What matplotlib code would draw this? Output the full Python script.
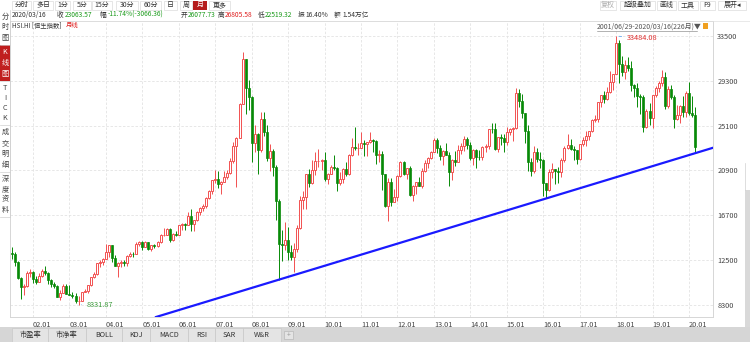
import matplotlib
matplotlib.use('Agg')
import matplotlib.pyplot as plt
from matplotlib.patches import Rectangle

plt.rcParams['font.family'] = ['Noto Sans CJK SC', 'DejaVu Sans']

# ---------------- data: HSI monthly candles 2001-06 .. 2020-03 ----------------
start_year, start_month = 2001, 6
opens = [
    13174, 13042, 12316, 10866, 9951, 10073, 11279,
    11397, 10725, 10482, 11033, 11497, 11301, 10599, 10268, 10043, 9072, 9441, 10069,
    9321, 9258, 9123, 8634, 8717, 9487, 9577, 10134, 10908, 11229, 12190, 12317,
    12576, 13289, 13908, 12682, 11943, 12198, 12286, 12239, 12850, 13120, 13054, 14060,
    14230, 13721, 14195, 13516, 13909, 13868, 14201, 14880, 14903, 15429, 14387, 14937,
    14876, 15753, 15918, 15805, 16661, 15858, 16267, 16971, 17392, 17543, 18324, 18960,
    19965, 20107, 19651, 19801, 20319, 20635, 21773, 23185, 23984, 27142, 31352, 28643,
    27813, 23456, 24332, 22849, 25755, 24533, 22102, 22731, 21262, 18016, 13969, 13888,
    14387, 13278, 12812, 13576, 15521, 18171, 18379, 20573, 19724, 20955, 21752, 21821,
    21873, 20122, 20608, 21239, 21108, 19765, 20129, 21030, 20536, 22358, 23096, 23007,
    23035, 23447, 23338, 23528, 23720, 23684, 22398, 22440, 20535, 17592, 19864, 17989,
    18434, 20390, 21680, 20556, 21094, 18630, 19441, 19796, 19482, 20840, 21642, 22030,
    22657, 23730, 23020, 22300, 22737, 22392, 20803, 21883, 21731, 22860, 23206, 23881,
    23306, 22035, 22837, 22151, 22133, 23082, 23191, 24757, 24742, 22933, 23998, 23987,
    23605, 24507, 24823, 24901, 28133, 27424, 26250, 24636, 21671, 20846, 22640, 21996,
    21914, 19683, 19112, 20777, 21067, 20815, 20794, 21891, 22977, 23297, 22935, 22790,
    22001, 23361, 23741, 24112, 24615, 25661, 25765, 27323, 27970, 27554, 28246, 29177,
    29919, 32887, 30845, 30093, 30808, 30469, 28955, 28583, 27889, 27789, 24980, 26507,
    25846, 27942, 28633, 29051, 29699, 26901, 28543, 27778, 25725, 26092, 26907, 26346,
    28190, 26313, 26078,
]
highs = [
    13711, 13236, 12401, 10954, 10286, 11518, 11627,
    11466, 10980, 11289, 11655, 11974, 11380, 10750, 10453, 10214, 9700, 10262, 10272,
    10166, 9506, 9398, 9129, 9548, 9795, 10173, 10908, 11413, 12242, 12513, 12664,
    14058, 13928, 13950, 12988, 12320, 12538, 12481, 12945, 13309, 13257, 14175, 14339,
    14277, 14274, 14197, 13948, 14032, 14287, 14916, 15508, 15508, 15509, 15066, 15203,
    15753, 15996, 16004, 16968, 17328, 16302, 17101, 17459, 17805, 18416, 19085, 20049,
    20971, 20841, 19893, 20856, 20953, 22085, 23563, 24045, 27254, 31958, 31352, 29365,
    27853, 25120, 24402, 26387, 26387, 25200, 23360, 22950, 21433, 18200, 15319, 16069,
    15620, 13883, 14137, 15750, 18465, 18963, 20573, 21058, 21929, 22621, 22943, 22003,
    22594, 20710, 21441, 22389, 21189, 20757, 21169, 21710, 22484, 23950, 24989, 23451,
    24468, 23722, 23549, 24468, 23880, 23781, 22835, 22702, 20611, 20221, 20210, 19181,
    20490, 21760, 21747, 21157, 21355, 19530, 19796, 20250, 21117, 21854, 22149, 22718,
    23944, 23944, 23307, 22787, 23512, 22625, 21980, 22700, 23307, 23509, 24112, 24038,
    23527, 22900, 22927, 22823, 23191, 23370, 24813, 25318, 25363, 23774, 24287, 24345,
    24987, 24847, 25012, 28588, 28524, 28049, 26331, 25129, 22073, 23152, 22986, 22625,
    21951, 19712, 21079, 21622, 21067, 21239, 22095, 23167, 24364, 23874, 23234, 22818,
    23374, 24004, 24594, 24616, 25701, 26090, 27362, 28017, 28376, 28736, 30199, 29919,
    33484.08, 33170, 31666, 31230, 31521, 31150, 28993, 29053, 28049, 27950, 26632, 27260,
    27968, 28858, 29316, 30280, 30157, 28794, 28880, 27963, 27069, 27034, 27838, 28319,
    29175, 27908, 26805.58,
]
lows = [
    12630, 11928, 10777, 8894, 9196, 9974, 10908,
    10385, 10233, 10450, 10910, 11101, 10250, 9960, 9898, 9072, 8772, 9410, 9321,
    9258, 8969, 8532, 8331.87, 8717, 9481, 9459, 10043, 10813, 11140, 11891, 12016,
    12568, 12837, 12330, 11943, 10918, 11875, 11996, 12000, 12774, 12766, 13048, 13870,
    13486, 13695, 13410, 13337, 13626, 13728, 14080, 14743, 14814, 14189, 14309, 14744,
    14866, 15310, 15352, 15794, 15205, 15234, 16155, 16711, 17087, 17388, 18274, 18686,
    19715, 19304, 18659, 19801, 20119, 20535, 21560, 19386, 23962, 27142, 26168, 26576,
    21709, 22590, 20572, 22600, 24160, 21773, 20897, 20392, 16283, 10676.29, 12400, 13408,
    12478, 12522, 11345, 13220, 15400, 17290, 17250, 19354, 19645, 20445, 21226, 20937,
    19927, 19671, 20594, 20982, 18972, 19572, 19768, 20400, 20450, 22282, 22836, 22345,
    23016, 22302, 22285, 23441, 22651, 21508, 21705, 19030, 17500, 16170, 17613, 17950,
    18056, 20336, 20453, 20065, 18556, 18056, 18710, 19448, 19257, 20720, 21177, 21948,
    22657, 22506, 21920, 21438, 22330, 19426, 19987, 21321, 21650, 22439, 22699, 22948,
    21888, 21371, 21137, 21902, 21865, 22612, 22960, 24416, 22833, 22595, 23279, 22622,
    23302, 24223, 23625, 24800, 26885, 25839, 23436, 20866, 20368, 20663, 21734, 21118,
    18534, 18278, 19016, 20211, 19595, 19694, 20328, 21686, 22930, 22849, 21914, 21488,
    21884, 23196, 23211, 23803, 24537, 25477, 25427, 26827, 27231, 27473, 28147, 28465,
    29919, 29129, 29750, 29506, 30222, 28355, 27745, 26871, 26219, 24541, 24900, 25201,
    24896, 27820, 28224, 28800, 26671, 26786, 27616, 24899, 25612, 25313, 25928, 25912,
    26083, 25912, 22519.32,
]
closes = [
    13042, 12316, 10866, 9951, 10073, 11279, 11397,
    10725, 10482, 11033, 11497, 11301, 10599, 10268, 10043, 9072, 9441, 10069, 9321,
    9258, 9123, 8634, 8717, 9487, 9577, 10134, 10908, 11229, 12190, 12317, 12576,
    13289, 13908, 12682, 11943, 12198, 12286, 12239, 12850, 13120, 13054, 14060, 14230,
    13721, 14195, 13516, 13909, 13868, 14201, 14880, 14903, 15429, 14387, 14937, 14876,
    15753, 15918, 15805, 16661, 15858, 16267, 16971, 17392, 17543, 18324, 18960, 19965,
    20107, 19651, 19801, 20319, 20635, 21773, 23185, 23984, 27142, 31352, 28643, 27813,
    23456, 24332, 22849, 25755, 24533, 22102, 22731, 21262, 18016, 13969, 13888, 14387,
    13278, 12812, 13576, 15521, 18171, 18379, 20573, 19724, 20955, 21752, 21821, 21873,
    20122, 20608, 21239, 21108, 19765, 20129, 21030, 20536, 22358, 23096, 23007, 23035,
    23447, 23338, 23528, 23720, 23684, 22398, 22440, 20535, 17592, 19864, 17989, 18434,
    20390, 21680, 20556, 21094, 18630, 19441, 19796, 19482, 20840, 21642, 22030, 22657,
    23730, 23020, 22300, 22737, 22392, 20803, 21883, 21731, 22860, 23206, 23881, 23306,
    22035, 22837, 22151, 22133, 23082, 23191, 24757, 24742, 22933, 23998, 23987, 23605,
    24507, 24823, 24901, 28133, 27424, 26250, 24636, 21671, 20846, 22640, 21996, 21914,
    19683, 19112, 20777, 21067, 20815, 20794, 21891, 22977, 23297, 22935, 22790, 22001,
    23361, 23741, 24112, 24615, 25661, 25765, 27323, 27970, 27554, 28246, 29177, 29919,
    32887, 30845, 30093, 30808, 30469, 28955, 28583, 27889, 27789, 24980, 26507, 25846,
    27942, 28633, 29051, 29699, 26901, 28543, 27778, 25725, 26092, 26907, 26346, 28190,
    26313, 26130, 23063.57,
]
y_ticks = [8300, 12500, 16700, 20900, 25100, 29300, 33500]
x_tick_labels = ['02.01', '03.01', '04.01', '05.01', '06.01', '07.01', '08.01', '09.01',
                 '10.01', '11.01', '12.01', '13.01', '14.01', '15.01', '16.01', '17.01',
                 '18.01', '19.01', '20.01']
# trend line anchors (month index, value): 2008-10 low and 2020-03 low
trend_a = (88, 10676.29)
trend_b = (225, 22519.32)

# ---------------- figure ----------------
W, H = 750, 342
fig = plt.figure(figsize=(7.5, 3.42), dpi=100)
fig.patch.set_facecolor('white')

ax = fig.add_axes([10 / W, 1 - 317 / H, 703 / W, 296 / H])
ax.set_xlim(-0.57, 230.9)
ax.set_ylim(7176, 34905)
ax.set_facecolor('white')

RED = '#f25050'
GREEN = '#078a07'
bw = 0.66
for i, (o, h, l, c) in enumerate(zip(opens, highs, lows, closes)):
    lo_b, hi_b = min(o, c), max(o, c)
    if c >= o:
        ax.vlines(i, l, lo_b, color=RED, lw=0.7, zorder=3)
        ax.vlines(i, hi_b, h, color=RED, lw=0.7, zorder=3)
        ax.add_patch(Rectangle((i - bw / 2, lo_b), bw, hi_b - lo_b, facecolor='white',
                               edgecolor=RED, lw=0.7, zorder=4))
    else:
        ax.vlines(i, l, h, color=GREEN, lw=0.7, zorder=3)
        ax.add_patch(Rectangle((i - bw / 2, lo_b), bw, hi_b - lo_b, facecolor=GREEN,
                               edgecolor=GREEN, lw=0.5, zorder=4))

ax.axline(trend_a, trend_b, color='#1a1aff', lw=1.6, zorder=6)

x_ticks = [(12 - start_month + 1) + 12 * k for k in range(len(x_tick_labels))]
ax.set_xticks(x_ticks)
ax.set_xticklabels(x_tick_labels, ha='left')
ax.set_yticks(y_ticks)
ax.set_yticklabels([str(v) for v in y_ticks])
ax.yaxis.tick_right()
ax.tick_params(axis='x', length=0, pad=3, labelsize=5.3, colors='#444444')
ax.tick_params(axis='y', length=0, pad=3, labelsize=5.3, colors='#444444')
ax.grid(True, color='#e3e3e3', linestyle=(0, (3, 2)), linewidth=0.6, zorder=0)
ax.set_axisbelow(True)
for s in ax.spines.values():
    s.set_color('#d6d6d6')
    s.set_linewidth(0.7)

# peak / trough annotations
pk = highs.index(max(highs))
ax.annotate('%.2f' % max(highs), xy=(pk, max(highs)), xytext=(8, -1), textcoords='offset points',
            fontsize=5.3, color='#e03030', va='center', ha='left',
            arrowprops=dict(arrowstyle='-', color='#6aaaf0', lw=0.6))
tr = lows.index(min(lows))
ax.annotate('%.2f' % min(lows), xy=(tr, min(lows)), xytext=(6, 0), textcoords='offset points',
            fontsize=5.3, color='#3a9a3a', va='center', ha='left',
            arrowprops=dict(arrowstyle='-', color='#6aaaf0', lw=0.6))

# ---------------- overlay (UI chrome) ----------------
ov = fig.add_axes([0, 0, 1, 1], zorder=10)
ov.set_xlim(0, W)
ov.set_ylim(H, 0)
ov.axis('off')
ov.patch.set_alpha(0)

def box(x0, y0, x1, y1, fc, ec='none', lw=0.5):
    ov.add_patch(Rectangle((x0, y0), x1 - x0, y1 - y0, facecolor=fc, edgecolor=ec, lw=lw))

def txt(x, y, s, size=5.0, color='#333333', ha='left', **kw):
    ov.text(x, y, s, fontsize=size, color=color, ha=ha, va='center', **kw)

# top toolbar
box(0, 0, W, 10, 'white')
buttons = [('分时', 12, 31), ('多日', 33, 53), ('1分', 55, 70), ('5分', 73, 91), ('15分', 92, 112),
           ('30分', 116, 138), ('60分', 140, 161), ('日', 164, 177), ('周', 180, 192),
           ('月', 193, 207), ('更多', 209, 230)]
for s, x0, x1 in buttons:
    if s == '月':
        box(x0, 0.5, x1, 9.5, '#b51c1c')
        txt((x0 + x1) / 2, 5, s, color='white', ha='center')
    else:
        box(x0, 0.5, x1, 9.5, 'white', ec='#dcdcdc')
        txt((x0 + x1) / 2, 5, s, ha='center')
rbuttons = [('复权', 600, 616, '#aaaaaa'), ('超级叠加', 620, 655, '#333333'),
            ('画线', 657, 676, '#333333'), ('工具', 678, 698, '#333333'),
            ('F9', 700, 715, '#333333'), ('展开◂', 718, 746, '#333333')]
for s, x0, x1, col in rbuttons:
    box(x0, 0.5, x1, 9.5, 'white', ec='#dcdcdc')
    txt((x0 + x1) / 2, 5, s, color=col, ha='center')

# info row
G = '#1a9a1a'
R = '#e02020'
info = [(12, '2020/03/16', '#333333'), (57, '收', '#333333'), (65, '23063.57', G),
        (100, '幅', '#333333'), (108, '-11.74%(-3066.36)', G), (181, '开', '#333333'),
        (188, '26077.73', G), (218, '高', '#333333'), (225, '26805.58', R),
        (258, '低', '#333333'), (265, '22519.32', G), (298, '振', '#333333'),
        (305, '16.40%', '#333333'), (334, '额', '#333333'), (342, '1.54万亿', '#333333')]
for x, s, col in info:
    txt(x, 15, s, size=4.8, color=col)
ov.plot([10, 750], [20.5, 20.5], color='#e0e0e0', lw=0.5)

# chart title
txt(12, 25.5, 'HSI.HI [恒生指数]', size=4.6, color='#333333')
txt(66, 25.5, '月线', size=4.6, color=R)

# range label
txt(597, 27, '2001/06/29-2020/03/16(226月)▼', size=5.0, color='#555555')
ov.plot([597, 697], [30.5, 30.5], color='#777777', lw=0.4)
box(703, 23, 708, 29, '#f0a020')

# left sidebar
box(0, 10, 10, 217, 'white')
ov.plot([10, 10], [10, 217], color='#d0d0d0', lw=0.5)
tabs = [('分时图', 10, 45), ('K线图', 45, 81), ('TICK', 81, 125), ('成交明细', 125, 172),
        ('深度资料', 172, 217)]
for s, y0, y1 in tabs:
    if s.startswith('K'):
        box(0, y0, 10, y1, '#c01e1e')
        col = 'white'
    else:
        col = '#444444'
    ov.plot([0, 10], [y1, y1], color='#d0d0d0', lw=0.5)
    n = len(s)
    step = (y1 - y0) / (n + 0.3)
    for k, ch in enumerate(s):
        txt(5, y0 + step * (k + 0.65), ch, size=5.2, color=col, ha='center')

# right strip
box(745, 190, W, H, '#d9d9d9')
ov.plot([745, 745], [163, 190], color='#d0d0d0', lw=0.5)

# bottom tab bar
box(0, 327, W, H, '#d6d6d6')
btabs = [('市盈率', 12, 48), ('市净率', 48, 86), ('BOLL', 86, 122), ('KDJ', 122, 150),
         ('MACD', 150, 188), ('RSI', 188, 215), ('SAR', 215, 243), ('W&R', 243, 281)]
for s, x0, x1 in btabs:
    box(x0, 328, x1, 342, '#e4e4e4', ec='#c8c8c8', lw=0.5)
    txt((x0 + x1) / 2, 335, s, size=5.2, color='#333333', ha='center')
box(284, 331, 293, 339, '#e4e4e4', ec='#b8b8b8', lw=0.5)
txt(288.5, 335, '+', size=5, color='#999999', ha='center')

fig.savefig('out.png', dpi=100, facecolor='white')
